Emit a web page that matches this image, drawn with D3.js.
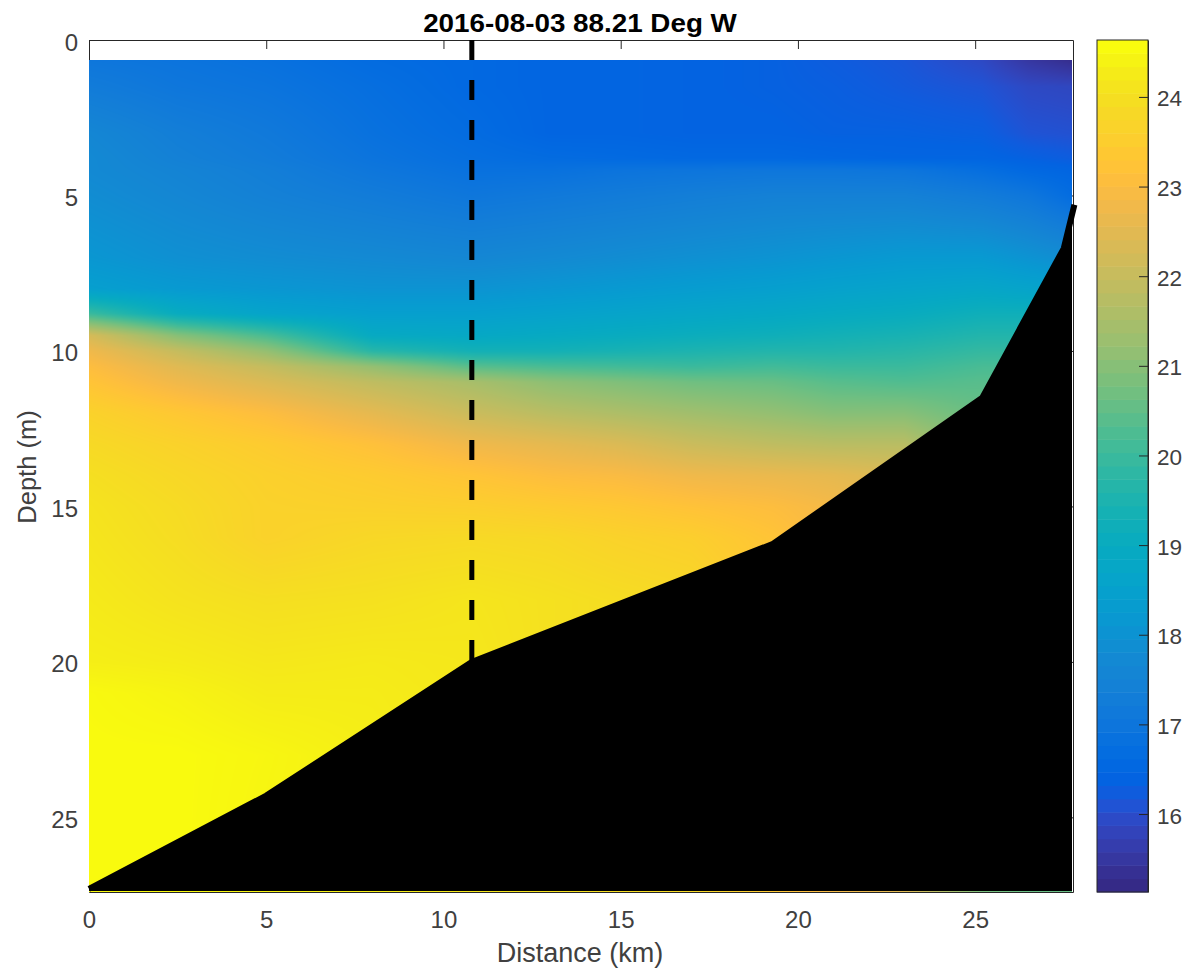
<!DOCTYPE html>
<html><head><meta charset="utf-8">
<script src="https://cdnjs.cloudflare.com/ajax/libs/d3/7.8.5/d3.min.js"></script>
<style>html,body{margin:0;padding:0;background:#fff}svg{display:block}text{font-family:"Liberation Sans",Arial,sans-serif}</style>
</head><body><svg id="c" width="1183" height="970"></svg>
<script>
const titleText = "2016-08-03 88.21 Deg W";
const xLabel = "Distance (km)";
const yLabel = "Depth (m)";
const xTicks = [0,5,10,15,20,25];
const yTicks = [0,5,10,15,20,25];
const cTicks = [16,17,18,19,20,21,22,23,24];
const xLimit = [0,27.76];
const yLimit = [0,27.4];
const cLimit = [15.13,24.635];
const sectionLine = 10.8;
const bedKm    = [0,5,10.8,19.3,25.2,27.5,27.8];
const bedDepth = [27.3,24.3,20.0,16.2,11.5,6.7,5.3];

// temperature by station (columns) and depth (rows)
const depths = [0.65,1.5,3,3.8,4.2,5,7,8,8.8,9.5,10,10.5,11,12,13,14,15,16,18,20,21,23,27.4];
const stations = [0,2.5,5,8,10.8,13,15,17,19.3,21,23,25.2,26.5,27.8];
const st00 = [17.0,17.2,17.6,17.7,17.7,17.8,18.1,18.4,20.0,22.3,22.8,23.1,23.3,23.7,23.9,24.05,24.15,24.2,24.3,24.4,24.6,24.63,24.63];
const st01 = [16.9,17.0,17.3,17.4,17.5,17.6,17.9,18.2,19.0,21.0,22.0,22.5,22.8,23.4,23.7,23.85,23.95,24.0,24.15,24.35,24.5,24.63,24.63];
const st02 = [16.8,16.9,17.1,17.2,17.3,17.4,17.8,18.1,18.6,20.2,21.2,22.0,22.4,23.1,23.5,23.65,23.7,23.7,24.05,24.25,24.35,24.55,24.5];
const st03 = [16.6,16.7,16.8,16.9,17.0,17.2,17.7,18.0,18.4,18.9,19.7,21.2,21.9,22.6,23.2,23.5,23.65,23.85,24.1,24.3,24.35,24.4,24.4];
const st04 = [16.5,16.5,16.6,16.7,16.8,17.0,17.6,18.0,18.4,18.8,19.3,20.4,21.5,22.1,22.8,23.3,23.6,23.9,24.2,24.25,24.25,24.25,24.25];
const st05 = [16.4,16.4,16.4,16.6,16.8,17.1,17.7,18.1,18.5,18.9,19.3,20.2,21.1,21.8,22.6,23.1,23.5,23.85,24.1,24.1,24.1,24.1,24.1];
const st06 = [16.4,16.4,16.4,16.55,16.9,17.2,17.8,18.2,18.6,19.0,19.4,20.1,20.9,21.6,22.4,23.0,23.4,23.7,24.0,24.0,24.0,24.0,24.0];
const st07 = [16.35,16.35,16.35,16.5,16.95,17.3,17.9,18.3,18.7,19.1,19.5,20.0,20.7,21.4,22.1,22.8,23.25,23.6,23.9,23.9,23.9,23.9,23.9];
const st08 = [16.3,16.3,16.35,16.5,17.0,17.4,18.0,18.4,18.8,19.2,19.6,20.1,20.6,21.2,21.9,22.7,23.1,23.3,23.4,23.4,23.4,23.4,23.4];
const st09 = [16.2,16.25,16.3,16.45,17.0,17.4,18.1,18.5,18.9,19.3,19.6,20.0,20.4,21.0,21.8,22.6,22.9,22.9,22.9,22.9,22.9,22.9,22.9];
const st10 = [16.1,16.15,16.3,16.4,16.95,17.4,18.2,18.6,19.0,19.4,19.7,20.0,20.3,21.0,21.8,22.4,22.5,22.5,22.5,22.5,22.5,22.5,22.5];
const st11 = [15.85,16.05,16.25,16.4,16.7,17.2,18.2,18.7,19.2,19.6,19.9,20.2,20.4,20.6,20.8,20.8,20.8,20.8,20.8,20.8,20.8,20.8,20.8];
const st12 = [15.45,15.85,16.05,16.3,16.5,17.0,18.0,18.6,19.2,19.6,19.9,20.2,20.4,20.6,20.6,20.6,20.6,20.6,20.6,20.6,20.6,20.6,20.6];
const st13 = [15.2,15.8,16.0,16.2,16.4,16.6,17.8,18.5,19.2,19.6,19.9,20.2,20.4,20.6,20.6,20.6,20.6,20.6,20.6,20.6,20.6,20.6,20.6];
const stationValues = [st00,st01,st02,st03,st04,st05,st06,st07,st08,st09,st10,st11,st12,st13];

// MATLAB parula, 64 entries
const parula = [[.2081,.1663,.5292],[.2116,.1898,.5777],[.2123,.2138,.6270],[.2081,.2386,.6771],[.1959,.2645,.7279],[.1707,.2919,.7792],[.1253,.3242,.8303],[.0591,.3598,.8683],[.0117,.3875,.8820],[.0060,.4086,.8828],[.0165,.4266,.8786],[.0329,.4430,.8720],[.0498,.4586,.8641],[.0629,.4737,.8554],[.0723,.4887,.8467],[.0779,.5040,.8384],[.0793,.5200,.8312],[.0749,.5375,.8263],[.0641,.5570,.8240],[.0488,.5772,.8228],[.0343,.5966,.8199],[.0265,.6137,.8135],[.0239,.6287,.8038],[.0231,.6418,.7913],[.0228,.6535,.7768],[.0267,.6642,.7607],[.0384,.6743,.7436],[.0590,.6838,.7254],[.0843,.6928,.7062],[.1133,.7015,.6859],[.1453,.7098,.6646],[.1801,.7177,.6424],[.2178,.7250,.6193],[.2586,.7317,.5954],[.3022,.7376,.5712],[.3482,.7424,.5473],[.3953,.7459,.5244],[.4420,.7481,.5033],[.4871,.7491,.4840],[.5300,.7491,.4661],[.5709,.7485,.4494],[.6099,.7473,.4337],[.6473,.7456,.4188],[.6834,.7435,.4044],[.7184,.7411,.3905],[.7525,.7384,.3768],[.7858,.7356,.3633],[.8185,.7327,.3498],[.8507,.7299,.3360],[.8824,.7274,.3217],[.9139,.7258,.3063],[.9450,.7261,.2886],[.9739,.7314,.2666],[.9938,.7455,.2403],[.9990,.7653,.2164],[.9955,.7861,.1967],[.9880,.8066,.1794],[.9789,.8271,.1633],[.9697,.8481,.1475],[.9626,.8705,.1309],[.9589,.8949,.1132],[.9598,.9218,.0948],[.9661,.9514,.0755],[.9763,.9831,.0538]];

const box = {l:89,r:1073,t:40,b:892};
const bar = {l:1097,r:1148};
const inkLine = "#262626", inkText = "#404040";
const tickFont = 24, barFont = 22.5;

const svg = d3.select("#c");
const x = d3.scaleLinear().domain(xLimit).range([box.l,box.r]);
const y = d3.scaleLinear().domain(yLimit).range([box.t,box.b]);
const cy = d3.scaleLinear().domain(cLimit).range([box.b,box.t]);
const rgb = parula.map(p=>[p[0]*255,p[1]*255,p[2]*255]);
const colorIndex = d3.scaleLinear().domain(cLimit).range([0,rgb.length-1]).clamp(true);
function color(v){
  const f=colorIndex(v), i=Math.min(Math.floor(f),rgb.length-2), t=f-i;
  return [0,1,2].map(k=>rgb[i][k]+(rgb[i+1][k]-rgb[i][k])*t);
}

function styleAxis(g, size, fn){
  g.select(".domain").attr("stroke",inkLine);
  g.selectAll(".tick line").attr("stroke",inkLine);
  g.selectAll("text").attr("x",0).attr("y",0).attr("dy",null).attr("fill",inkText)
   .attr("font-size",size).attr("font-family",'"Liberation Sans",Arial,sans-serif')
   .each(fn);
}
// axes
const axB = svg.append("g").attr("transform",`translate(0,${box.b})`)
  .call(d3.axisBottom(x).tickValues(xTicks).tickFormat(d3.format("d")).tickSizeInner(-9).tickSizeOuter(0));
styleAxis(axB,tickFont,function(){d3.select(this).attr("text-anchor","middle").attr("transform",`translate(0,36)`);});
const axT = svg.append("g").attr("transform",`translate(0,${box.t})`)
  .call(d3.axisTop(x).tickValues(xTicks).tickFormat("").tickSizeInner(-9).tickSizeOuter(0));
axT.select(".domain").attr("stroke",inkLine); axT.selectAll(".tick line").attr("stroke",inkLine);
const axL = svg.append("g").attr("transform",`translate(${box.l},0)`)
  .call(d3.axisLeft(y).tickValues(yTicks).tickFormat(d3.format("d")).tickSizeInner(-9).tickSizeOuter(0));
styleAxis(axL,tickFont,function(){d3.select(this).attr("text-anchor","end").attr("transform",`translate(-11,10)`);});
const axR = svg.append("g").attr("transform",`translate(${box.r},0)`)
  .call(d3.axisRight(y).tickValues(yTicks).tickFormat("").tickSizeInner(-9).tickSizeOuter(0));
axR.select(".domain").attr("stroke",inkLine); axR.selectAll(".tick line").attr("stroke",inkLine);

// interpolated shading of the temperature grid
const dataTop = depths[0];
const px0 = box.l, py0 = Math.round(y(dataTop));
const W = box.r-box.l-1, H = box.b-py0;
const cv = document.createElement("canvas"); cv.width=W; cv.height=H;
const ctx = cv.getContext("2d"), img = ctx.createImageData(W,H);
const sIdx = d3.bisector(d=>d).right, dIdx = sIdx;
for(let j=0;j<H;j++){
  const dep = y.invert(py0+j+.5);
  const b = Math.min(Math.max(dIdx(depths,dep)-1,0),depths.length-2);
  const tb = Math.min(1,Math.max(0,(dep-depths[b])/(depths[b+1]-depths[b])));
  for(let i=0;i<W;i++){
    const km = x.invert(px0+i+.5);
    const a = Math.min(Math.max(sIdx(stations,km)-1,0),stations.length-2);
    const ta = Math.min(1,Math.max(0,(km-stations[a])/(stations[a+1]-stations[a])));
    const v0 = stationValues[a][b]+(stationValues[a][b+1]-stationValues[a][b])*tb;
    const v1 = stationValues[a+1][b]+(stationValues[a+1][b+1]-stationValues[a+1][b])*tb;
    const c = color(v0+(v1-v0)*ta), o=(j*W+i)*4;
    img.data[o]=c[0];img.data[o+1]=c[1];img.data[o+2]=c[2];img.data[o+3]=255;
  }
}
ctx.putImageData(img,0,0);
svg.append("image").attr("x",px0).attr("y",py0).attr("width",W).attr("height",H)
   .attr("href",cv.toDataURL("image/png"));

// sea bed
const bed = d3.zip(bedKm,bedDepth);
svg.append("path").datum(bed)
  .attr("d",d3.area().x(d=>Math.min(x(d[0]),box.r-1)).y0(d=>y(d[1])).y1(box.b-1))
  .attr("fill","#000");
svg.append("path").datum(bed)
  .attr("d",d3.line().x(d=>x(d[0])).y(d=>y(d[1])))
  .attr("fill","none").attr("stroke","#000").attr("stroke-width",6);

// section marker
svg.append("line").attr("x1",x(sectionLine)).attr("x2",x(sectionLine))
  .attr("y1",y(0)).attr("y2",y(bedDepth[2]))
  .attr("stroke","#000").attr("stroke-width",5).attr("stroke-dasharray","20 20");

// colour bar
const bandH = (box.b-box.t)/parula.length;
svg.append("g").selectAll("rect").data(rgb).join("rect")
  .attr("x",bar.l).attr("width",bar.r-bar.l)
  .attr("y",(d,i)=>cy(cLimit[0]+(i+1)*(cLimit[1]-cLimit[0])/parula.length))
  .attr("height",bandH+.5)
  .attr("fill",d=>d3.rgb(d[0],d[1],d[2]));
const axC = svg.append("g").attr("transform",`translate(${bar.r},0)`)
  .call(d3.axisRight(cy).tickValues(cTicks).tickFormat(d3.format("d")).tickSizeInner(-9).tickSizeOuter(0));
styleAxis(axC,barFont,function(){d3.select(this).attr("text-anchor","start").attr("transform",`translate(9,9)`);});
svg.append("rect").attr("x",bar.l).attr("y",box.t).attr("width",bar.r-bar.l).attr("height",box.b-box.t)
  .attr("fill","none").attr("stroke",inkLine);

// titles
svg.append("text").attr("text-anchor","middle").attr("font-weight","bold").attr("font-size",26).attr("fill","#000")
  .attr("transform",`translate(580,32) scale(1.07,1)`).text(titleText);
svg.append("text").attr("text-anchor","middle").attr("font-size",27).attr("fill",inkText)
  .attr("transform",`translate(580,962)`).text(xLabel);
svg.append("text").attr("text-anchor","middle").attr("font-size",25.5).attr("fill",inkText)
  .attr("transform",`translate(36,467) rotate(-90)`).text(yLabel);
</script></body></html>
